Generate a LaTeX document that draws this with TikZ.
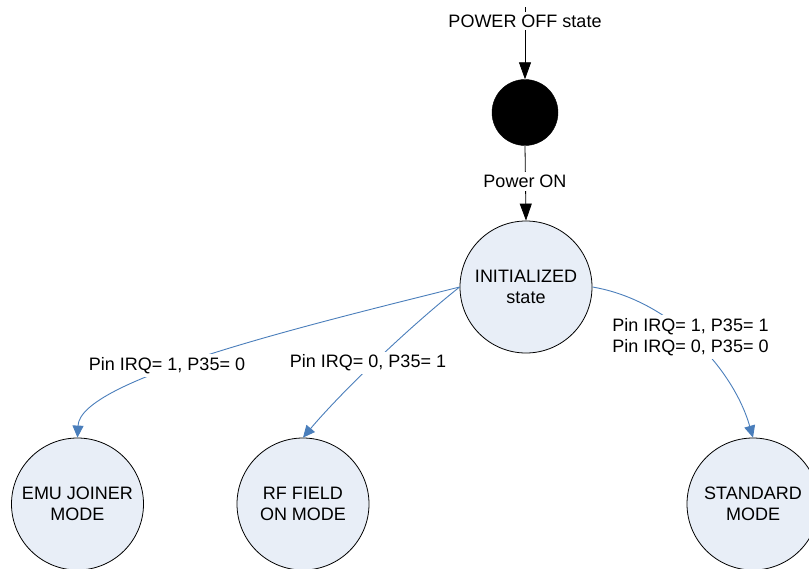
\documentclass[tikz,border=0pt]{standalone}
\usepackage{fontspec}
\setmainfont{Liberation Sans}
\usetikzlibrary{arrows.meta}
\definecolor{edgeblue}{HTML}{4A7EBB}
\definecolor{statefill}{HTML}{E8EEF7}
\begin{document}
\begin{tikzpicture}[x=1pt,y=-1pt,
  txt/.style={font=\fontsize{18}{21}\selectfont, text=black},
  state/.style={circle, draw=black, line width=0.8pt, fill=statefill, minimum size=132pt, inner sep=0pt, align=center, txt},
  startdot/.style={circle, fill=black, draw=black, minimum size=66pt, inner sep=0pt},
  blk/.style={draw=black, line width=0.8pt, -{Triangle[length=17pt,width=12pt]}},
  blu/.style={draw=edgeblue, line width=0.9pt, -{Triangle[length=12pt,width=11pt]}},
  lbl/.style={fill=white, inner sep=3pt, align=center, txt}]
\useasboundingbox (0,0) rectangle (809,568);
\clip (0,0) rectangle (809,568);
% states
\coordinate (top) at (525,7);
\node[startdot] (start) at (525,112.5) {};
\node[state] (init) at (526,287) {INITIALIZED\\state};
\node[state] (emu) at (77.5,504) {EMU JOINER\\MODE};
\node[state] (rf) at (303,504) {RF FIELD\\ON MODE};
\node[state] (std) at (753,504) {STANDARD\\MODE};
% connectors
\draw[blk] (top) -- (start.north);
\draw[blk] (start.south) -- (init.north);
\draw[blu] (init.west) .. controls (300,327) and (80,380) .. (emu.north);
\draw[blu] (init.west) .. controls (402,333) and (338,396) .. (rf.north);
\draw[blu] (init.east) .. controls (670,300) and (733,368) .. (std.north);
% labels
\node[lbl] (offlbl) at (525,21) {POWER OFF state};
\node[lbl] (onlbl) at (525,181.5) {Power ON};
\node[lbl] (l1) at (167,365.4) {Pin IRQ= 1, P35= 0};
\node[lbl] (l2) at (368,362.8) {Pin IRQ= 0, P35= 1};
\node[lbl] (l3) at (690.5,337) {Pin IRQ= 1, P35= 1\\Pin IRQ= 0, P35= 0};
\end{tikzpicture}
\end{document}
